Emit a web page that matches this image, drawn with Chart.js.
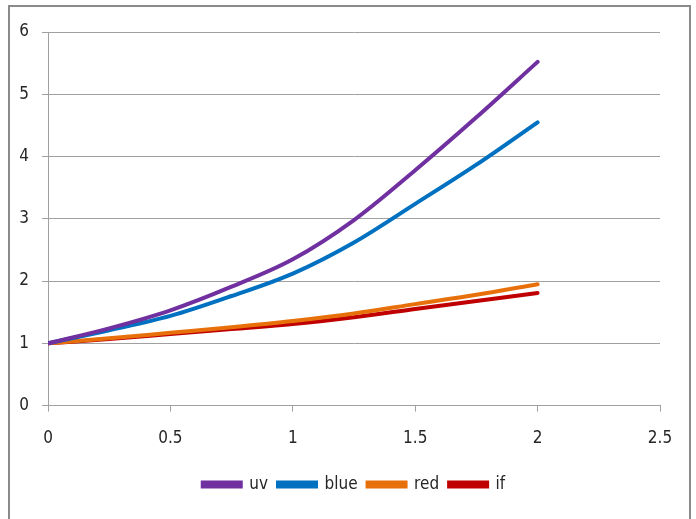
<!DOCTYPE html>
<html lang="en">
<head>
    <meta charset="UTF-8">
    <title>Chart</title>
    <script src="https://cdn.jsdelivr.net/npm/chart.js"></script>
    <style>
        body { margin: 0; background: #fff; }
        #wrap { position: relative; width: 696px; height: 519px; overflow: hidden; }
        #frame { position: absolute; left: 8px; top: 5px; width: 683px; height: 540px; border: 2px solid #8a8a8a; box-sizing: border-box; }
        canvas { position: absolute; left: 0; top: 0; }
    </style>
</head>
<body>
    <div id="wrap">
        <div id="frame"></div>
        <canvas id="chart" width="696" height="519"></canvas>
    </div>

    <script>
        // valores
        const xValues = [0, 0.25, 0.5, 0.75, 1, 1.25, 1.5, 1.75, 2];
        const uv   = [1, 1.24, 1.53, 1.91, 2.35, 2.98, 3.78, 4.63, 5.52];
        const blue = [1, 1.21, 1.44, 1.76, 2.12, 2.62, 3.24, 3.87, 4.55];
        const red  = [1, 1.08, 1.17, 1.26, 1.36, 1.48, 1.63, 1.78, 1.95];
        const irf  = [1, 1.07, 1.15, 1.23, 1.31, 1.42, 1.55, 1.68, 1.81];
        const seriesNames = ['uv', 'blue', 'red', 'if'];
        const seriesColors = ['#7030A0', '#0070C0', '#E8700A', '#C00000'];
        const xTicks = [0, 0.5, 1, 1.5, 2, 2.5];
        const yTicks = [0, 1, 2, 3, 4, 5, 6];

        const toPoints = arr => arr.map((v, i) => ({ x: xValues[i], y: v }));
        const allSeries = [uv, blue, red, irf];

        const font = { family: '"DejaVu Sans Condensed", "Liberation Sans", sans-serif', size: 17 };

        // correr la leyenda un poco a la derecha, como en el original
        const moverLeyenda = {
            id: 'moverLeyenda',
            afterLayout(chart) {
                chart.legend.left += 24;
                chart.legend.right += 24;
            }
        };

        new Chart(document.getElementById('chart'), {
            type: 'line',
            data: {
                datasets: allSeries.map((s, i) => ({
                    label: seriesNames[i],
                    data: toPoints(s),
                    borderColor: seriesColors[i],
                    backgroundColor: seriesColors[i],
                    borderWidth: 4,
                    borderCapStyle: 'round',
                    pointRadius: 0,
                    cubicInterpolationMode: 'monotone',
                    fill: false
                }))
            },
            options: {
                responsive: false,
                animation: false,
                layout: { padding: { top: 32, right: 36, left: 0, bottom: 16 } },
                scales: {
                    x: {
                        type: 'linear',
                        min: xTicks[0],
                        max: xTicks[xTicks.length - 1],
                        afterBuildTicks: s => { s.ticks = xTicks.map(v => ({ value: v })); },
                        grid: { drawOnChartArea: false, color: '#a0a0a0', tickLength: 6 },
                        border: { color: '#a0a0a0', width: 1 },
                        ticks: { color: '#262626', font: font, padding: 17, maxRotation: 0, callback: v => String(v) }
                    },
                    y: {
                        min: yTicks[0],
                        max: yTicks[yTicks.length - 1],
                        afterBuildTicks: s => { s.ticks = yTicks.map(v => ({ value: v })); },
                        afterFit: s => { s.width = 48; },
                        grid: { color: '#a0a0a0', tickLength: 6 },
                        border: { color: '#a0a0a0', width: 1 },
                        ticks: { color: '#262626', font: font, padding: 13, callback: v => String(v) }
                    }
                },
                plugins: {
                    tooltip: { enabled: false },
                    legend: {
                        position: 'bottom',
                        labels: {
                            color: '#262626',
                            font: font,
                            boxWidth: 38,
                            boxHeight: 4,
                            padding: 10
                        }
                    }
                }
            },
            plugins: [moverLeyenda]
        });
    </script>
</body>
</html>
